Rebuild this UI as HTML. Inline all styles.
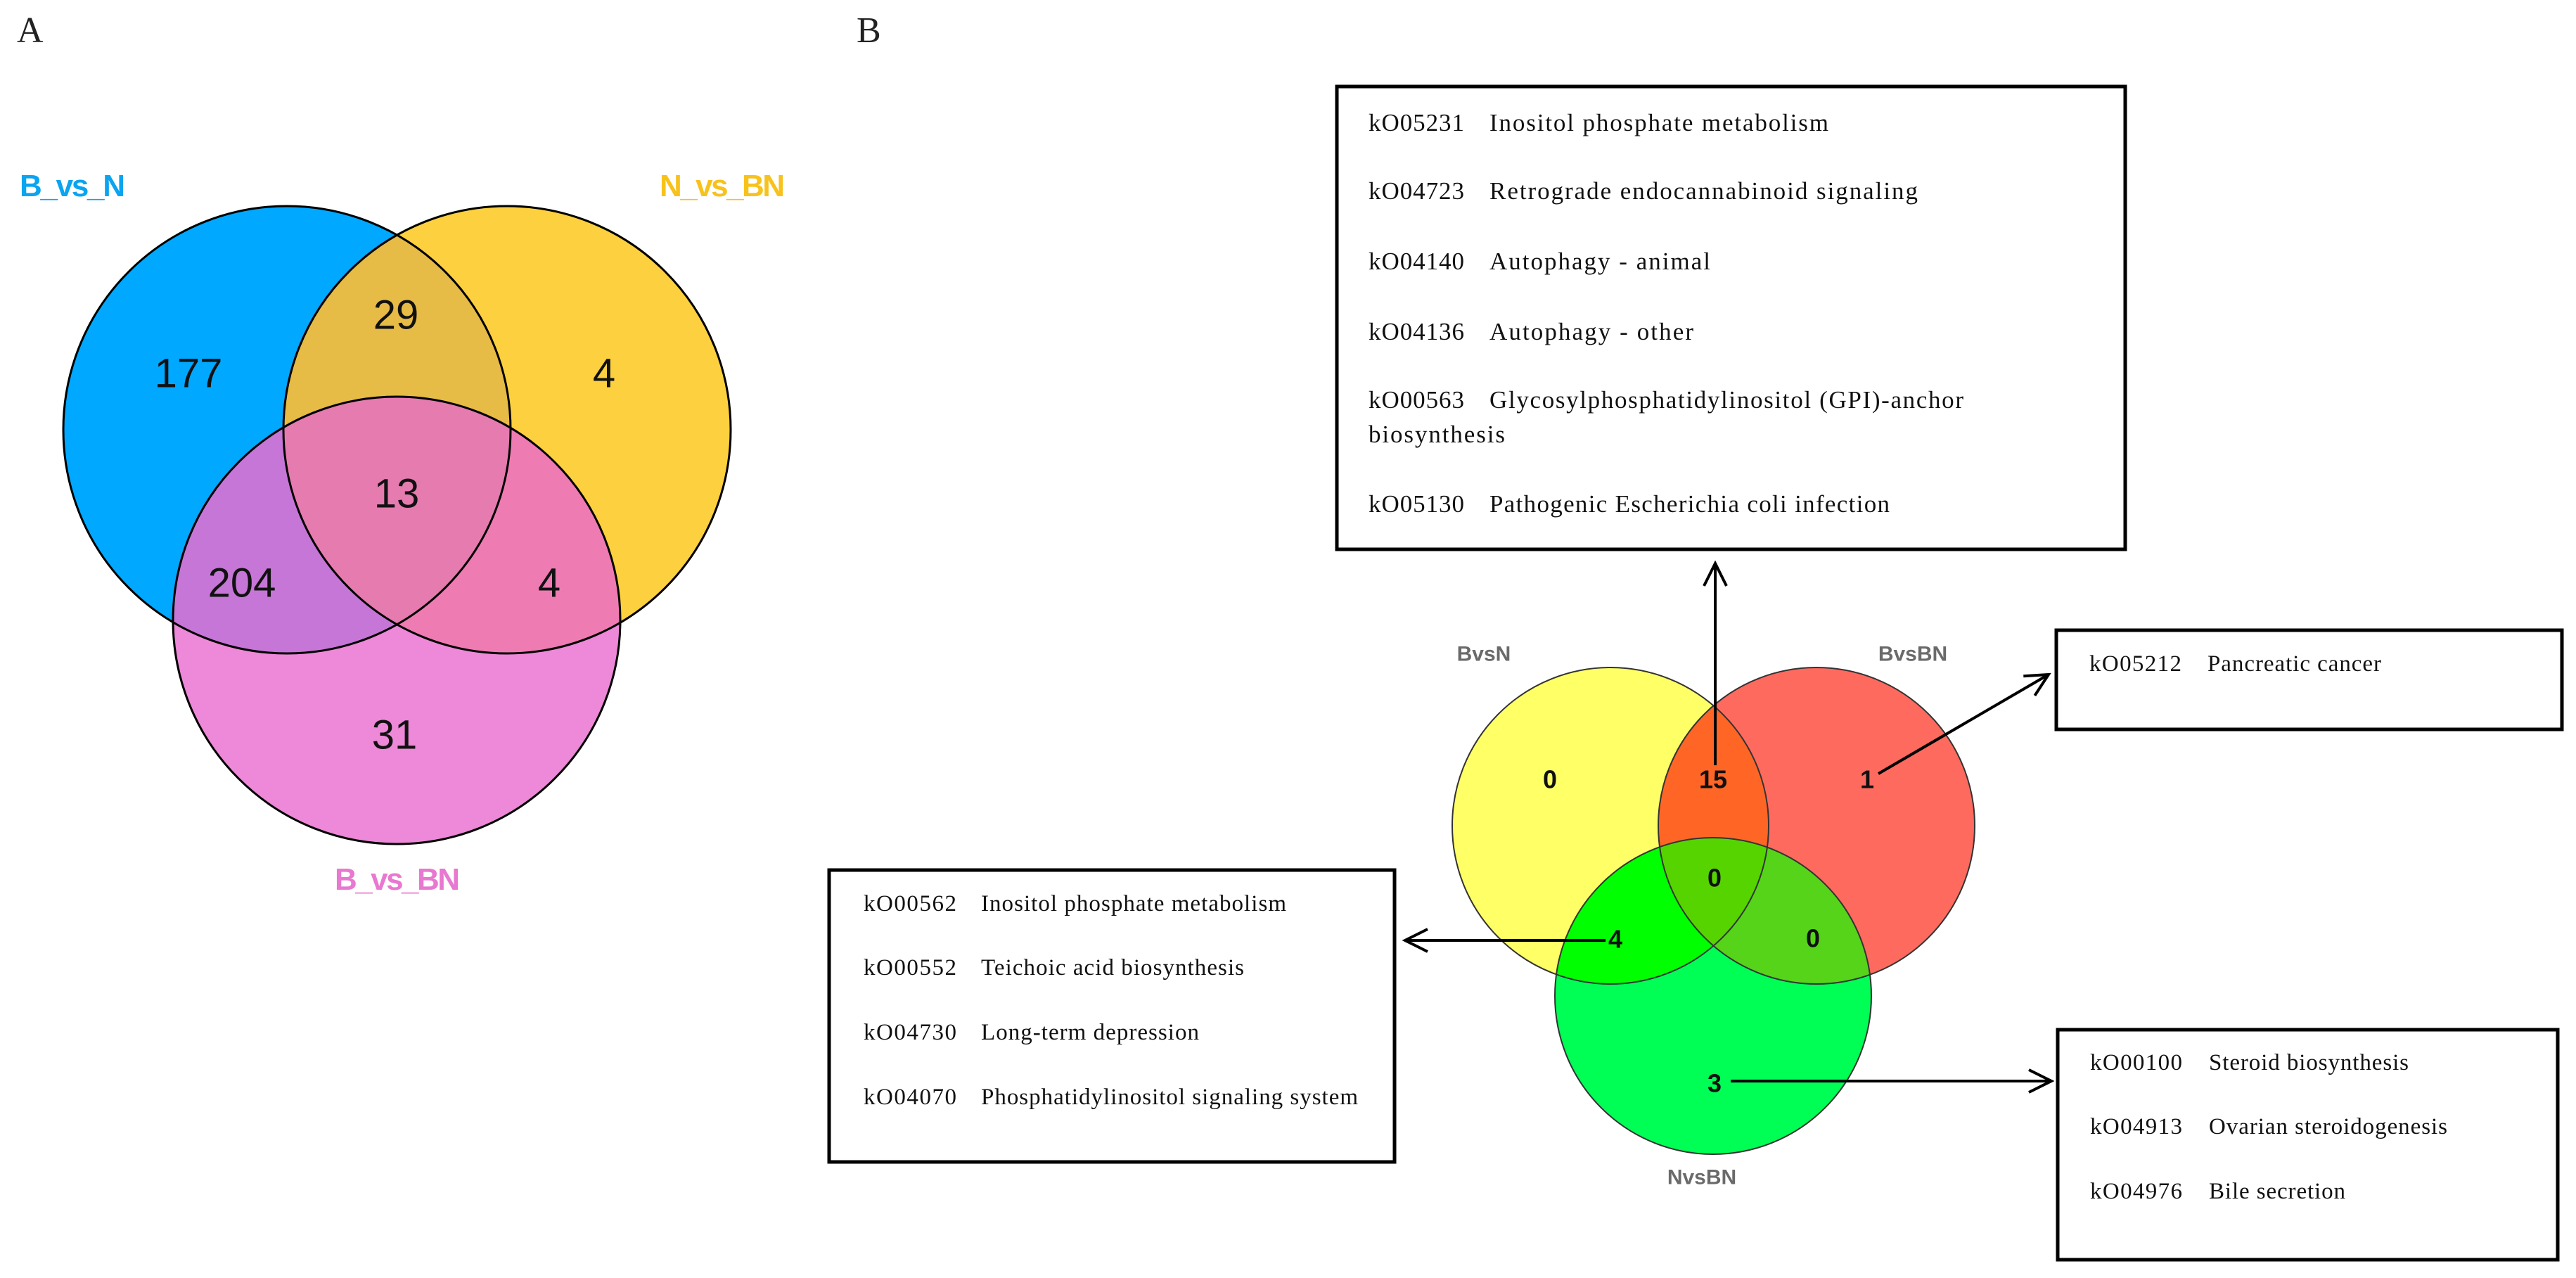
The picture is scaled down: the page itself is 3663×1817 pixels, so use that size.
<!DOCTYPE html>
<html><head><meta charset="utf-8"><style>
html,body{margin:0;padding:0;background:#fff;}
svg{display:block;}
.n{font-family:"Liberation Sans",sans-serif;font-size:58px;fill:#111;text-anchor:middle;dominant-baseline:central;}
.la{font-family:"Liberation Sans",sans-serif;font-size:44px;font-weight:bold;}
.lb{font-family:"Liberation Sans",sans-serif;font-size:30px;font-weight:bold;fill:#6a6a6a;text-anchor:middle;dominant-baseline:central;}
.nb{font-family:"Liberation Sans",sans-serif;font-size:36px;font-weight:bold;fill:#111;text-anchor:middle;dominant-baseline:central;}
.t{font-family:"Liberation Serif",serif;font-size:35px;fill:#111;}
.t2{font-family:"Liberation Serif",serif;font-size:33px;fill:#111;}
</style></head><body>
<svg width="3663" height="1817" viewBox="0 0 3663 1817" xmlns="http://www.w3.org/2000/svg">
<defs>
<clipPath id="cB"><circle cx="408" cy="611" r="318"/></clipPath>
<clipPath id="cY"><circle cx="721" cy="611" r="318"/></clipPath>
<clipPath id="cP"><circle cx="564" cy="882" r="318"/></clipPath>
<clipPath id="bY"><circle cx="2290" cy="1174" r="225"/></clipPath>
<clipPath id="bR"><circle cx="2583" cy="1174" r="225"/></clipPath>
<clipPath id="bG"><circle cx="2436" cy="1416" r="225"/></clipPath>
<marker id="ar" markerWidth="40" markerHeight="40" refX="36" refY="20" orient="auto" markerUnits="userSpaceOnUse">
<path d="M4,4 L36,20 L4,36" fill="none" stroke="#000" stroke-width="4"/></marker>
</defs>
<!-- Panel A -->
<text x="24" y="60" style="font-family:'Liberation Serif',serif;font-size:52px;fill:#222">A</text>
<circle cx="408" cy="611" r="318" fill="#00a8ff"/>
<circle cx="721" cy="611" r="318" fill="#fdd03f"/>
<circle cx="564" cy="882" r="318" fill="#ee88d8"/>
<g clip-path="url(#cB)"><circle cx="721" cy="611" r="318" fill="#e6bb46"/><circle cx="564" cy="882" r="318" fill="#c676d6"/></g>
<g clip-path="url(#cY)"><circle cx="564" cy="882" r="318" fill="#ef7bb3"/></g>
<g clip-path="url(#cB)"><g clip-path="url(#cY)"><circle cx="564" cy="882" r="318" fill="#e67bb0"/></g></g>
<g fill="none" stroke="#000" stroke-width="3">
<circle cx="408" cy="611" r="318"/><circle cx="721" cy="611" r="318"/><circle cx="564" cy="882" r="318"/></g>
<text class="la" x="28" y="279" fill="#0aa4f0" textLength="150">B_vs_N</text>
<text class="la" x="938" y="279" fill="#f7c21c" textLength="178">N_vs_BN</text>
<text class="la" x="476" y="1265" fill="#e878d0" textLength="178">B_vs_BN</text>
<text class="n" x="268" y="531">177</text>
<text class="n" x="563" y="448">29</text>
<text class="n" x="859" y="531">4</text>
<text class="n" x="564" y="702">13</text>
<text class="n" x="344" y="829">204</text>
<text class="n" x="781" y="829">4</text>
<text class="n" x="561" y="1045">31</text>
<!-- Panel B -->
<text x="1218" y="60" style="font-family:'Liberation Serif',serif;font-size:52px;fill:#222">B</text>
<circle cx="2290" cy="1174" r="225" fill="#ffff66"/>
<circle cx="2583" cy="1174" r="225" fill="#ff6a5e"/>
<circle cx="2436" cy="1416" r="225" fill="#00ff55"/>
<g clip-path="url(#bY)"><circle cx="2583" cy="1174" r="225" fill="#ff6626"/><circle cx="2436" cy="1416" r="225" fill="#00ff00"/></g>
<g clip-path="url(#bR)"><circle cx="2436" cy="1416" r="225" fill="#55d41a"/></g>
<g clip-path="url(#bY)"><g clip-path="url(#bR)"><circle cx="2436" cy="1416" r="225" fill="#55d400"/></g></g>
<g fill="none" stroke="#333" stroke-width="2">
<circle cx="2290" cy="1174" r="225"/><circle cx="2583" cy="1174" r="225"/><circle cx="2436" cy="1416" r="225"/></g>
<text class="lb" x="2110" y="930">BvsN</text>
<text class="lb" x="2720" y="930">BvsBN</text>
<text class="lb" x="2420" y="1674">NvsBN</text>
<text class="nb" x="2204" y="1108">0</text>
<text class="nb" x="2436" y="1108">15</text>
<text class="nb" x="2655" y="1108">1</text>
<text class="nb" x="2438" y="1248">0</text>
<text class="nb" x="2297" y="1335">4</text>
<text class="nb" x="2578" y="1334">0</text>
<text class="nb" x="2438" y="1540">3</text>
<g stroke="#000" stroke-width="4" fill="none">
<line x1="2439" y1="1088" x2="2439" y2="801" marker-end="url(#ar)"/>
<line x1="2283" y1="1337" x2="1998" y2="1337" marker-end="url(#ar)"/>
<line x1="2671" y1="1100" x2="2913" y2="959" marker-end="url(#ar)"/>
<line x1="2461" y1="1537" x2="2917" y2="1537" marker-end="url(#ar)"/>
</g>
<!-- boxes -->
<g fill="none" stroke="#000" stroke-width="5">
<rect x="1901" y="123" width="1121" height="658"/>
<rect x="1179" y="1237" width="804" height="415"/>
<rect x="2924" y="896" width="719" height="141"/>
<rect x="2926" y="1464" width="711" height="327"/>
</g>
<g class="t">
<text x="1946" y="186" textLength="136">kO05231</text><text x="2118" y="186" textLength="482">Inositol phosphate metabolism</text>
<text x="1946" y="283" textLength="136">kO04723</text><text x="2118" y="283" textLength="609">Retrograde endocannabinoid signaling</text>
<text x="1946" y="383" textLength="136">kO04140</text><text x="2118" y="383" textLength="314">Autophagy - animal</text>
<text x="1946" y="483" textLength="136">kO04136</text><text x="2118" y="483" textLength="290">Autophagy - other</text>
<text x="1946" y="580" textLength="136">kO00563</text><text x="2118" y="580" textLength="674">Glycosylphosphatidylinositol (GPI)-anchor</text>
<text x="1946" y="629" textLength="194">biosynthesis</text>
<text x="1946" y="728" textLength="136">kO05130</text><text x="2118" y="728" textLength="569">Pathogenic Escherichia coli infection</text>
</g>
<g class="t2">
<text x="1228" y="1295" textLength="132">kO00562</text><text x="1395" y="1295" textLength="434">Inositol phosphate metabolism</text>
<text x="1228" y="1386" textLength="132">kO00552</text><text x="1395" y="1386" textLength="374">Teichoic acid biosynthesis</text>
<text x="1228" y="1478" textLength="132">kO04730</text><text x="1395" y="1478" textLength="310">Long-term depression</text>
<text x="1228" y="1570" textLength="132">kO04070</text><text x="1395" y="1570" textLength="536">Phosphatidylinositol signaling system</text>
<text x="2971" y="954" textLength="131">kO05212</text><text x="3139" y="954" textLength="247">Pancreatic cancer</text>
<text x="2972" y="1521" textLength="131">kO00100</text><text x="3141" y="1521" textLength="284">Steroid biosynthesis</text>
<text x="2972" y="1612" textLength="131">kO04913</text><text x="3141" y="1612" textLength="339">Ovarian steroidogenesis</text>
<text x="2972" y="1704" textLength="131">kO04976</text><text x="3141" y="1704" textLength="194">Bile secretion</text>
</g>
</svg>
</body></html>
